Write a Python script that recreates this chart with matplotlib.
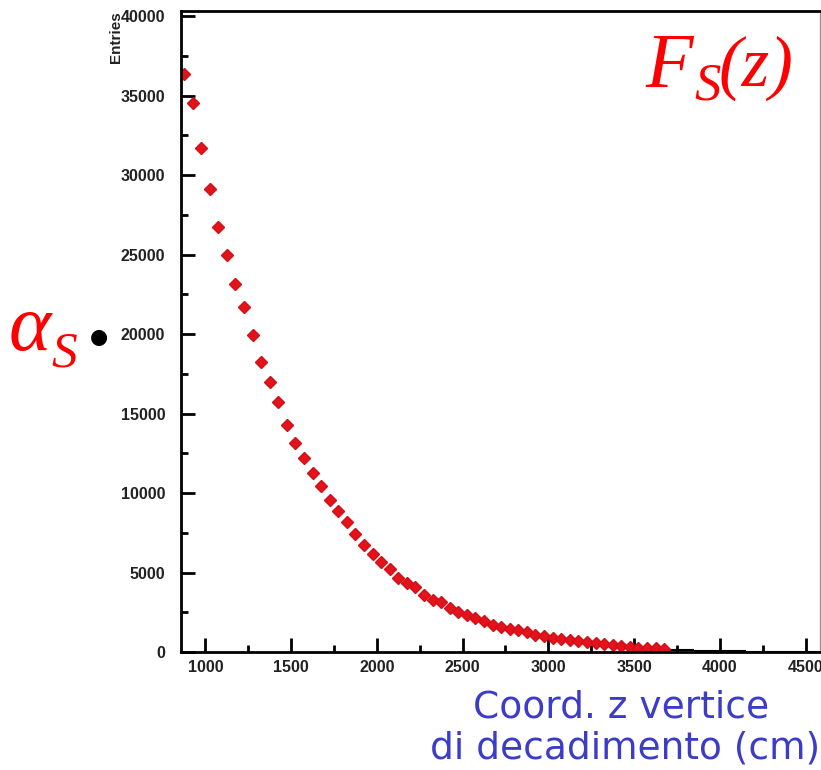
import matplotlib.pyplot as plt
import numpy as np

# bin centres (cm) and entries
z_red = [875, 925, 975, 1025, 1075, 1125, 1175, 1225, 1275, 1325,
         1375, 1425, 1475, 1525, 1575, 1625, 1675, 1725, 1775, 1825,
         1875, 1925, 1975, 2025, 2075, 2125, 2175, 2225, 2275, 2325,
         2375, 2425, 2475, 2525, 2575, 2625, 2675, 2725, 2775, 2825,
         2875, 2925, 2975, 3025, 3075, 3125, 3175, 3225, 3275, 3325,
         3375, 3425, 3475, 3525, 3575, 3625, 3675]
entries = [36350, 34530, 31700, 29150, 26740, 24960, 23160, 21670, 19940, 18250,
           16970, 15710, 14290, 13120, 12220, 11280, 10440, 9580, 8870, 8150,
           7400, 6760, 6190, 5680, 5190, 4640, 4310, 4060, 3580, 3260,
           3130, 2780, 2530, 2320, 2150, 1960, 1720, 1560, 1420, 1410,
           1240, 1100, 990, 890, 790, 740, 720, 620, 550, 510,
           450, 390, 330, 270, 250, 240, 200]
z_tail = [3725, 3775, 3825, 3875, 3925, 3975, 4025, 4075, 4125, 4175,
          4225, 4275, 4325, 4375, 4425, 4475, 4525, 4575]
tail = [150, 120, 100, 80, 70, 60, 50, 40, 40, 30,
        30, 20, 20, 20, 10, 10, 10, 10]

W, H = 821, 770
fig = plt.figure(figsize=(W/100, H/100), dpi=100)
ax = fig.add_axes([180.5/W, 118/H, 639.5/W, 641.5/H])

ax.errorbar(z_tail, tail, xerr=25, fmt='none', ecolor='black', elinewidth=1.5)
ax.errorbar(z_red, entries, xerr=6, fmt='D', color='#e3121b', ms=6,
            mec='#d01018', ecolor='black', elinewidth=1.5, capsize=0)

ax.set_xlim(855, 4584)
ax.set_ylim(0, 40350)
ax.set_xticks([1000, 1500, 2000, 2500, 3000, 3500, 4000, 4500])
ax.set_xticks(np.arange(1000, 4600, 250), minor=True)
ax.set_yticks(np.arange(0, 40001, 5000))
ax.set_yticks(np.arange(0, 40001, 2500), minor=True)
ax.tick_params(which='both', direction='in', width=2, color='black',
               top=False, right=False)
ax.tick_params(which='major', length=10)
ax.tick_params(which='minor', length=5)
ax.tick_params(axis='y', which='major', pad=11)
ax.tick_params(axis='x', which='major', pad=6)
for lab in ax.get_xticklabels() + ax.get_yticklabels():
    lab.set_fontfamily('Liberation Sans')
    lab.set_fontweight('bold')
    lab.set_fontsize(11.5)
    lab.set_color('#222222')

for s in ['left', 'top', 'bottom']:
    ax.spines[s].set_linewidth(2)
ax.spines['right'].set_linewidth(1)
ax.spines['right'].set_color('#999999')

def px(x, y):
    return x / W, 1 - y / H

fig.text(*px(116, 11), 'Entries', rotation=90, ha='center', va='top',
         fontsize=11, fontweight='bold', family='Liberation Sans', color='#222222')

serif = dict(family='Liberation Serif', style='italic', color='red',
             ha='left', va='baseline')
# F_S(z)
fig.text(*px(645, 87), 'F', fontsize=56, **serif)
fig.text(*px(694, 100), 'S', fontsize=38, **serif)
fig.text(*px(718, 86), '(z)', fontsize=51, **serif)
# alpha_S
fig.text(*px(9, 350), '\u03b1', fontsize=58, **serif)
fig.text(*px(51, 366), 'S', fontsize=37, **serif)
fig.text(*px(99, 337), '\u25cf', ha='center', va='center',
         fontsize=15, color='black', family='DejaVu Sans')

blue = dict(ha='center', va='center', fontsize=27, color='#3c3cc8', family='DejaVu Sans')
fig.text(*px(621, 707), 'Coord. z vertice', **blue)
fig.text(*px(625, 749), 'di decadimento (cm)', **blue)

plt.savefig('out.png', dpi=100)
